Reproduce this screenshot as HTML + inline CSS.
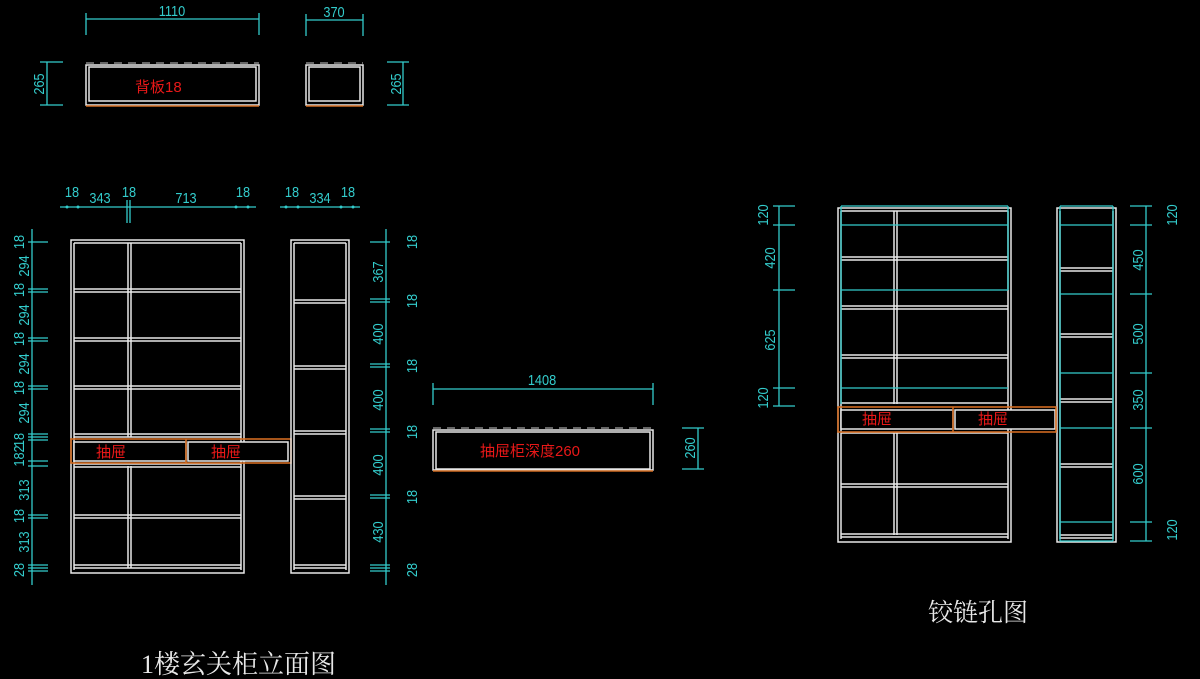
<!DOCTYPE html>
<html><head><meta charset="utf-8"><style>
html,body{margin:0;padding:0;background:#000;}
svg{display:block;}
.c{stroke:#33cccc;stroke-width:1.3;fill:none}
.w{stroke:#e8e8e8;stroke-width:1.5;fill:none}
.o{stroke:#d06a20;stroke-width:1.6;fill:none}
.ct{fill:#33cccc;font-family:"Liberation Sans",sans-serif;font-size:15px}
.rt{fill:#e81818;font-family:"Liberation Sans","Noto Sans CJK SC",sans-serif;font-size:15px}
</style></head><body>
<svg width="1200" height="679" viewBox="0 0 1200 679" xmlns="http://www.w3.org/2000/svg">
<rect width="1200" height="679" fill="#000"/>

<g class="c">
<line x1="86" y1="19" x2="259" y2="19"/><line x1="86" y1="13" x2="86" y2="35"/><line x1="259" y1="13" x2="259" y2="35"/>
<line x1="306" y1="20" x2="363" y2="20"/><line x1="306" y1="14" x2="306" y2="36"/><line x1="363" y1="14" x2="363" y2="36"/>
<line x1="47" y1="62" x2="47" y2="105"/><line x1="40" y1="62" x2="63" y2="62"/><line x1="40" y1="105" x2="63" y2="105"/>
<line x1="403" y1="62" x2="403" y2="105"/><line x1="387" y1="62" x2="409" y2="62"/><line x1="387" y1="105" x2="409" y2="105"/>
</g>
<g class="ct">
<text transform="translate(172,16) scale(0.85,1)" text-anchor="middle">1110</text>
<text transform="translate(334,17) scale(0.85,1)" text-anchor="middle">370</text>
<text transform="translate(44,84) rotate(-90) scale(0.85,1)" text-anchor="middle">265</text>
<text transform="translate(401,84) rotate(-90) scale(0.85,1)" text-anchor="middle">265</text>
</g>
<g>
<line x1="86" y1="63" x2="259" y2="63" stroke="#888" stroke-dasharray="8,6" stroke-width="1.5"/>
<rect class="w" x="86" y="65" width="173" height="40"/>
<rect class="w" x="89" y="67" width="167" height="34"/>
<line class="o" x1="86" y1="106" x2="259" y2="106"/>
<line x1="306" y1="63" x2="363" y2="63" stroke="#888" stroke-dasharray="8,6" stroke-width="1.5"/>
<rect class="w" x="306" y="65" width="57" height="40"/>
<rect class="w" x="309" y="67" width="51" height="34"/>
<line class="o" x1="306" y1="106" x2="363" y2="106"/>
</g>
<text class="rt" x="135" y="92">背板18</text>

<g class="c">
<line x1="60" y1="207" x2="256" y2="207"/>
<line x1="127" y1="200" x2="127" y2="223"/><line x1="130" y1="200" x2="130" y2="223"/>
<line x1="280" y1="207" x2="360" y2="207"/>
<line x1="32" y1="229" x2="32" y2="585"/>
<line x1="386" y1="229" x2="386" y2="585"/>
</g>
<g fill="#33cccc">
<circle cx="67" cy="207" r="1.5"/><circle cx="78" cy="207" r="1.5"/><circle cx="236" cy="207" r="1.5"/><circle cx="248" cy="207" r="1.5"/>
<circle cx="286" cy="207" r="1.5"/><circle cx="298" cy="207" r="1.5"/><circle cx="341" cy="207" r="1.5"/><circle cx="353" cy="207" r="1.5"/>
</g>
<g class="ct">
<text transform="translate(72,197) scale(0.85,1)" text-anchor="middle">18</text>
<text transform="translate(100,203) scale(0.85,1)" text-anchor="middle">343</text>
<text transform="translate(129,197) scale(0.85,1)" text-anchor="middle">18</text>
<text transform="translate(186,203) scale(0.85,1)" text-anchor="middle">713</text>
<text transform="translate(243,197) scale(0.85,1)" text-anchor="middle">18</text>
<text transform="translate(292,197) scale(0.85,1)" text-anchor="middle">18</text>
<text transform="translate(320,203) scale(0.85,1)" text-anchor="middle">334</text>
<text transform="translate(348,197) scale(0.85,1)" text-anchor="middle">18</text>
</g>

<g class="c">
<line x1="28" y1="242" x2="48" y2="242"/>
<line x1="28" y1="289" x2="48" y2="289"/><line x1="28" y1="292" x2="48" y2="292"/>
<line x1="28" y1="338" x2="48" y2="338"/><line x1="28" y1="341" x2="48" y2="341"/>
<line x1="28" y1="386" x2="48" y2="386"/><line x1="28" y1="389" x2="48" y2="389"/>
<line x1="28" y1="434" x2="48" y2="434"/><line x1="28" y1="437" x2="48" y2="437"/><line x1="28" y1="440" x2="48" y2="440"/>
<line x1="28" y1="461" x2="48" y2="461"/><line x1="28" y1="466" x2="48" y2="466"/>
<line x1="28" y1="515" x2="48" y2="515"/><line x1="28" y1="518" x2="48" y2="518"/>
<line x1="28" y1="565" x2="48" y2="565"/><line x1="28" y1="568" x2="48" y2="568"/><line x1="28" y1="571" x2="48" y2="571"/>
</g>
<g class="ct">
<text transform="translate(24,242) rotate(-90) scale(0.85,1)" text-anchor="middle">18</text>
<text transform="translate(29,266) rotate(-90) scale(0.85,1)" text-anchor="middle">294</text>
<text transform="translate(24,290) rotate(-90) scale(0.85,1)" text-anchor="middle">18</text>
<text transform="translate(29,315) rotate(-90) scale(0.85,1)" text-anchor="middle">294</text>
<text transform="translate(24,339) rotate(-90) scale(0.85,1)" text-anchor="middle">18</text>
<text transform="translate(29,364) rotate(-90) scale(0.85,1)" text-anchor="middle">294</text>
<text transform="translate(24,388) rotate(-90) scale(0.85,1)" text-anchor="middle">18</text>
<text transform="translate(29,413) rotate(-90) scale(0.85,1)" text-anchor="middle">294</text>
<text transform="translate(24,440) rotate(-90) scale(0.85,1)" text-anchor="middle">18</text>
<text transform="translate(24,456) rotate(-90) scale(0.85,1)" text-anchor="middle">182</text>
<text transform="translate(29,490) rotate(-90) scale(0.85,1)" text-anchor="middle">313</text>
<text transform="translate(24,516) rotate(-90) scale(0.85,1)" text-anchor="middle">18</text>
<text transform="translate(29,542) rotate(-90) scale(0.85,1)" text-anchor="middle">313</text>
<text transform="translate(24,570) rotate(-90) scale(0.85,1)" text-anchor="middle">28</text>
</g>

<g class="c">
<line x1="370" y1="242" x2="390" y2="242"/>
<line x1="370" y1="299" x2="390" y2="299"/><line x1="370" y1="302" x2="390" y2="302"/>
<line x1="370" y1="364" x2="390" y2="364"/><line x1="370" y1="367" x2="390" y2="367"/>
<line x1="370" y1="429" x2="390" y2="429"/><line x1="370" y1="432" x2="390" y2="432"/>
<line x1="370" y1="495" x2="390" y2="495"/><line x1="370" y1="498" x2="390" y2="498"/>
<line x1="370" y1="565" x2="390" y2="565"/><line x1="370" y1="568" x2="390" y2="568"/><line x1="370" y1="571" x2="390" y2="571"/>
</g>
<g class="ct">
<text transform="translate(383,272) rotate(-90) scale(0.85,1)" text-anchor="middle">367</text>
<text transform="translate(383,334) rotate(-90) scale(0.85,1)" text-anchor="middle">400</text>
<text transform="translate(383,400) rotate(-90) scale(0.85,1)" text-anchor="middle">400</text>
<text transform="translate(383,465) rotate(-90) scale(0.85,1)" text-anchor="middle">400</text>
<text transform="translate(383,532) rotate(-90) scale(0.85,1)" text-anchor="middle">430</text>
<text transform="translate(417,242) rotate(-90) scale(0.85,1)" text-anchor="middle">18</text>
<text transform="translate(417,301) rotate(-90) scale(0.85,1)" text-anchor="middle">18</text>
<text transform="translate(417,366) rotate(-90) scale(0.85,1)" text-anchor="middle">18</text>
<text transform="translate(417,432) rotate(-90) scale(0.85,1)" text-anchor="middle">18</text>
<text transform="translate(417,497) rotate(-90) scale(0.85,1)" text-anchor="middle">18</text>
<text transform="translate(417,570) rotate(-90) scale(0.85,1)" text-anchor="middle">28</text>
</g>

<g class="w">
<rect x="71" y="240" width="173" height="333"/>
<line x1="74" y1="243" x2="74" y2="570"/><line x1="241" y1="243" x2="241" y2="570"/>
<line x1="74" y1="243" x2="241" y2="243"/>
<line x1="128" y1="243" x2="128" y2="437"/><line x1="131" y1="243" x2="131" y2="437"/>
<line x1="128" y1="466" x2="128" y2="568"/><line x1="131" y1="466" x2="131" y2="568"/>
<line x1="74" y1="289" x2="241" y2="289"/><line x1="74" y1="292" x2="241" y2="292"/>
<line x1="74" y1="338" x2="241" y2="338"/><line x1="74" y1="341" x2="241" y2="341"/>
<line x1="74" y1="386" x2="241" y2="386"/><line x1="74" y1="389" x2="241" y2="389"/>
<line x1="74" y1="434" x2="241" y2="434"/><line x1="74" y1="437" x2="241" y2="437"/>
<line x1="74" y1="464" x2="241" y2="464"/><line x1="74" y1="467" x2="241" y2="467"/>
<line x1="74" y1="515" x2="241" y2="515"/><line x1="74" y1="518" x2="241" y2="518"/>
<line x1="74" y1="565" x2="241" y2="565"/><line x1="74" y1="568" x2="241" y2="568"/>
<rect x="74" y="442" width="112" height="19" fill="#000"/>
<rect x="188" y="442" width="100" height="19" fill="#000"/>
</g>
<rect class="o" x="71" y="439" width="220" height="24"/>
<line class="o" x1="186" y1="439" x2="186" y2="463"/>
<text class="rt" x="96" y="457">抽屉</text>
<text class="rt" x="211" y="457">抽屉</text>

<g class="w">
<rect x="291" y="240" width="58" height="333"/>
<line x1="294" y1="243" x2="294" y2="570"/><line x1="346" y1="243" x2="346" y2="570"/>
<line x1="294" y1="243" x2="346" y2="243"/>
<line x1="294" y1="300" x2="346" y2="300"/><line x1="294" y1="303" x2="346" y2="303"/>
<line x1="294" y1="366" x2="346" y2="366"/><line x1="294" y1="369" x2="346" y2="369"/>
<line x1="294" y1="431" x2="346" y2="431"/><line x1="294" y1="434" x2="346" y2="434"/>
<line x1="294" y1="496" x2="346" y2="496"/><line x1="294" y1="499" x2="346" y2="499"/>
<line x1="294" y1="565" x2="346" y2="565"/><line x1="294" y1="568" x2="346" y2="568"/>
</g>

<g class="c">
<line x1="433" y1="389" x2="653" y2="389"/><line x1="433" y1="383" x2="433" y2="405"/><line x1="653" y1="383" x2="653" y2="405"/>
<line x1="698" y1="428" x2="698" y2="469"/><line x1="682" y1="428" x2="704" y2="428"/><line x1="682" y1="469" x2="704" y2="469"/>
</g>
<g class="ct">
<text transform="translate(542,385) scale(0.85,1)" text-anchor="middle">1408</text>
<text transform="translate(695,448) rotate(-90) scale(0.85,1)" text-anchor="middle">260</text>
</g>
<line x1="433" y1="428" x2="653" y2="428" stroke="#888" stroke-dasharray="8,6" stroke-width="1.5"/>
<rect class="w" x="433" y="430" width="220" height="40"/>
<rect class="w" x="436" y="432" width="214" height="37"/>
<line class="o" x1="433" y1="471" x2="653" y2="471"/>
<text class="rt" x="480" y="456">抽屉柜深度260</text>

<g class="w">
<rect x="838" y="208" width="173" height="334"/>
<line x1="841" y1="211" x2="841" y2="539"/><line x1="1008" y1="211" x2="1008" y2="539"/>
<line x1="841" y1="211" x2="1008" y2="211"/>
<line x1="894" y1="211" x2="894" y2="404"/><line x1="897" y1="211" x2="897" y2="404"/>
<line x1="894" y1="433" x2="894" y2="535"/><line x1="897" y1="433" x2="897" y2="535"/>
<line x1="841" y1="257" x2="1008" y2="257"/><line x1="841" y1="260" x2="1008" y2="260"/>
<line x1="841" y1="306" x2="1008" y2="306"/><line x1="841" y1="309" x2="1008" y2="309"/>
<line x1="841" y1="355" x2="1008" y2="355"/><line x1="841" y1="358" x2="1008" y2="358"/>
<line x1="841" y1="403" x2="1008" y2="403"/>
<line x1="841" y1="433" x2="1008" y2="433"/>
<line x1="841" y1="484" x2="1008" y2="484"/><line x1="841" y1="487" x2="1008" y2="487"/>
<line x1="841" y1="534" x2="1008" y2="534"/><line x1="841" y1="537" x2="1008" y2="537"/>
<rect x="841" y="410" width="112" height="19" fill="#000"/>
<rect x="955" y="410" width="100" height="19" fill="#000"/>
<rect x="1057" y="208" width="59" height="334"/>
<line x1="1060" y1="211" x2="1060" y2="539"/><line x1="1113" y1="211" x2="1113" y2="539"/>
<line x1="1060" y1="268" x2="1113" y2="268"/><line x1="1060" y1="271" x2="1113" y2="271"/>
<line x1="1060" y1="334" x2="1113" y2="334"/><line x1="1060" y1="337" x2="1113" y2="337"/>
<line x1="1060" y1="399" x2="1113" y2="399"/><line x1="1060" y1="402" x2="1113" y2="402"/>
<line x1="1060" y1="464" x2="1113" y2="464"/><line x1="1060" y1="467" x2="1113" y2="467"/>
<line x1="1060" y1="535" x2="1113" y2="535"/><line x1="1060" y1="538" x2="1113" y2="538"/>
</g>
<rect class="o" x="838" y="407" width="218" height="25"/>
<line class="o" x1="953" y1="407" x2="953" y2="432"/>
<text class="rt" x="862" y="424">抽屉</text>
<text class="rt" x="978" y="424">抽屉</text>
<g class="c">
<line x1="841" y1="206" x2="1008" y2="206"/>
<line x1="841" y1="206" x2="841" y2="404"/><line x1="1008" y1="206" x2="1008" y2="290"/>
<line x1="841" y1="225" x2="1008" y2="225"/>
<line x1="841" y1="290" x2="1008" y2="290"/>
<line x1="841" y1="388" x2="1008" y2="388"/>
<line x1="1060" y1="206" x2="1113" y2="206"/>
<line x1="1060" y1="206" x2="1060" y2="541"/><line x1="1113" y1="206" x2="1113" y2="541"/>
<line x1="1060" y1="225" x2="1113" y2="225"/>
<line x1="1060" y1="294" x2="1113" y2="294"/>
<line x1="1060" y1="373" x2="1113" y2="373"/>
<line x1="1060" y1="428" x2="1113" y2="428"/>
<line x1="1060" y1="522" x2="1113" y2="522"/>
<line x1="1060" y1="541" x2="1113" y2="541"/>
<line x1="779" y1="206" x2="779" y2="406"/>
<line x1="773" y1="206" x2="795" y2="206"/><line x1="773" y1="225" x2="795" y2="225"/><line x1="773" y1="290" x2="795" y2="290"/><line x1="773" y1="388" x2="795" y2="388"/><line x1="773" y1="406" x2="795" y2="406"/>
<line x1="1146" y1="206" x2="1146" y2="541"/>
<line x1="1130" y1="206" x2="1152" y2="206"/><line x1="1130" y1="225" x2="1152" y2="225"/><line x1="1130" y1="294" x2="1152" y2="294"/><line x1="1130" y1="373" x2="1152" y2="373"/><line x1="1130" y1="428" x2="1152" y2="428"/><line x1="1130" y1="522" x2="1152" y2="522"/><line x1="1130" y1="541" x2="1152" y2="541"/>
</g>
<g class="ct">
<text transform="translate(768,215) rotate(-90) scale(0.85,1)" text-anchor="middle">120</text>
<text transform="translate(775,258) rotate(-90) scale(0.85,1)" text-anchor="middle">420</text>
<text transform="translate(775,340) rotate(-90) scale(0.85,1)" text-anchor="middle">625</text>
<text transform="translate(768,398) rotate(-90) scale(0.85,1)" text-anchor="middle">120</text>
<text transform="translate(1177,215) rotate(-90) scale(0.85,1)" text-anchor="middle">120</text>
<text transform="translate(1143,260) rotate(-90) scale(0.85,1)" text-anchor="middle">450</text>
<text transform="translate(1143,334) rotate(-90) scale(0.85,1)" text-anchor="middle">500</text>
<text transform="translate(1143,400) rotate(-90) scale(0.85,1)" text-anchor="middle">350</text>
<text transform="translate(1143,474) rotate(-90) scale(0.85,1)" text-anchor="middle">600</text>
<text transform="translate(1177,530) rotate(-90) scale(0.85,1)" text-anchor="middle">120</text>
</g>

<text x="141" y="673" fill="#e8e8e8" font-family="'Liberation Serif','Noto Serif CJK SC',serif" font-size="26">1楼玄关柜立面图</text>
<text x="928" y="621" fill="#e8e8e8" font-family="'Liberation Serif','Noto Serif CJK SC',serif" font-size="25">铰链孔图</text>
</svg>
</body></html>
